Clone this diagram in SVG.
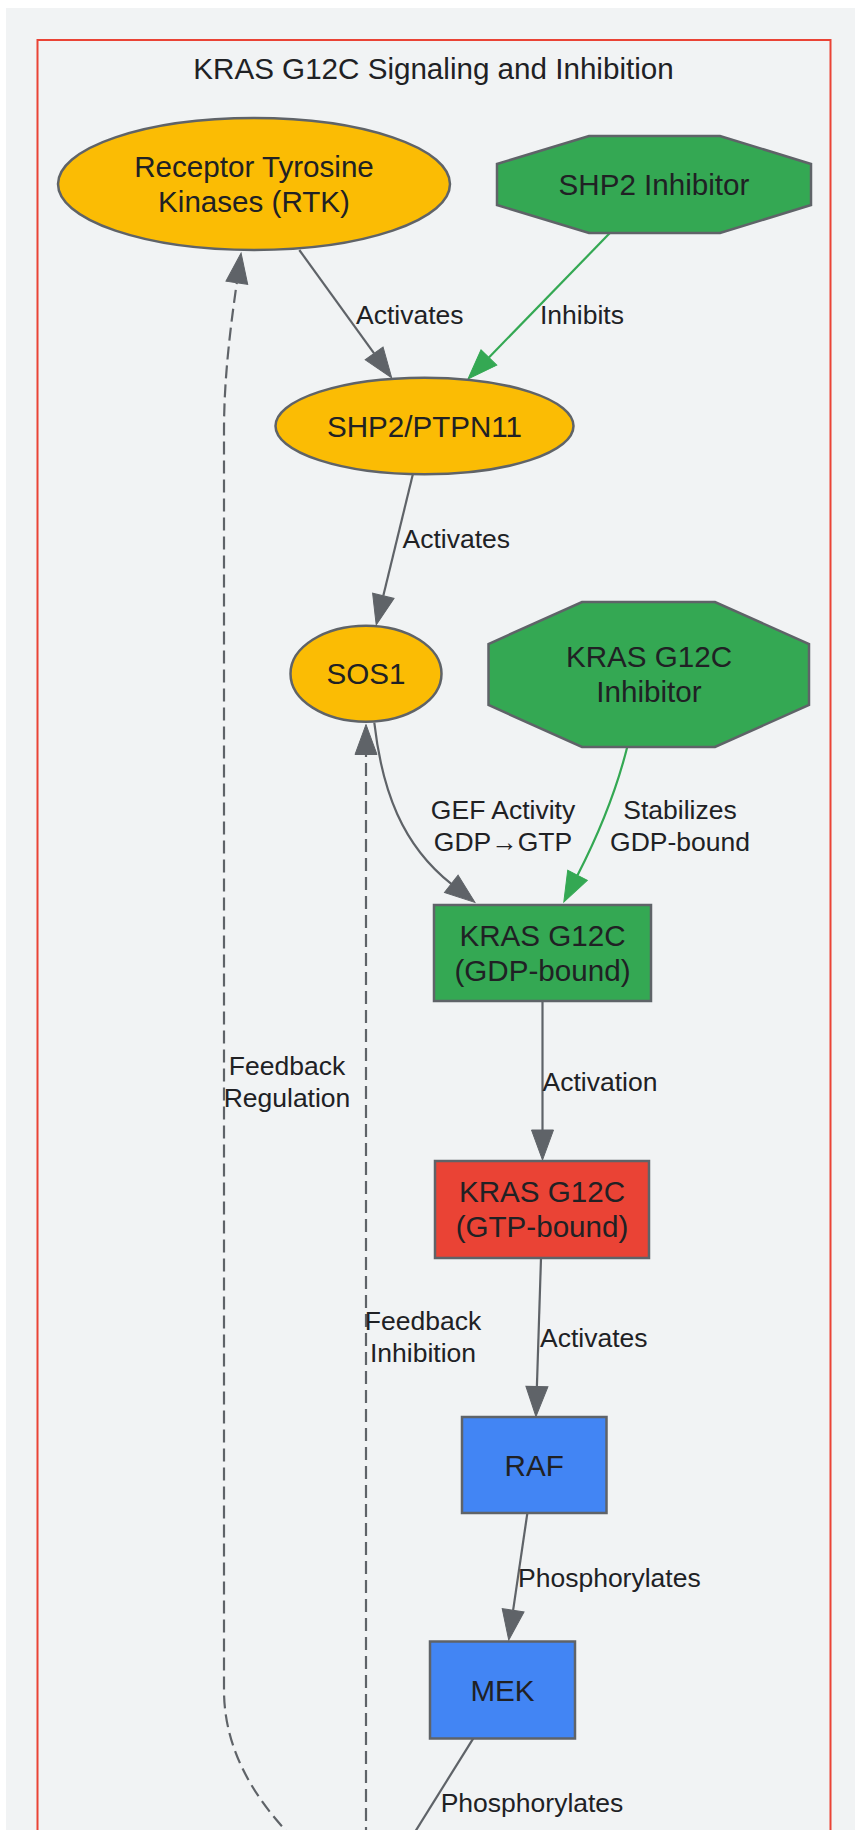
<svg xmlns="http://www.w3.org/2000/svg" width="855" height="1830" viewBox="0 0 855 1830">
<style>
  .node { stroke: #5f6368; stroke-width: 2.5; }
  .yellow { fill: #fbbc04; }
  .green { fill: #34a853; }
  .red { fill: #ea4335; }
  .blue { fill: #4285f4; }
  .ntext { font-family: "Liberation Sans", Arial, sans-serif; font-size: 29.6px; fill: #202124; text-anchor: middle; }
  .etext { font-family: "Liberation Sans", Arial, sans-serif; font-size: 26.5px; fill: #202124; }
  .mid { text-anchor: middle; }
  .edge { fill: none; stroke: #5f6368; stroke-width: 2.2; }
  .gedge { fill: none; stroke: #34a853; stroke-width: 2.2; }
  .dash { stroke-dasharray: 13,6; }
</style>
<defs>
  <marker id="arrow" markerUnits="userSpaceOnUse" markerWidth="32" markerHeight="24" refX="0" refY="11" orient="auto" overflow="visible">
    <path d="M0,0 L30,11 L0,22 z" fill="#5f6368" stroke="#5f6368" stroke-width="1"/>
  </marker>
  <marker id="garrow" markerUnits="userSpaceOnUse" markerWidth="32" markerHeight="24" refX="0" refY="11" orient="auto" overflow="visible">
    <path d="M0,0 L30,11 L0,22 z" fill="#34a853" stroke="#34a853" stroke-width="1"/>
  </marker>
</defs>
<rect x="0" y="0" width="855" height="1830" fill="#ffffff"/>
<rect x="6" y="8" width="849" height="1822" fill="#f1f3f4"/>
<g id="cluster">
  <rect x="37.5" y="40" width="793" height="1860" fill="none" stroke="#ea4335" stroke-width="2"/>
  <text x="433.5" y="79" class="ntext">KRAS G12C Signaling and Inhibition</text>
</g>
<g id="connectors">
  <path class="edge" d="M299.3,250 L374.1,353.4" marker-end="url(#arrow)"/>
  <text class="etext" x="356" y="324">Activates</text>

  <path class="gedge" d="M609.6,233.3 L488.9,357.5" marker-end="url(#garrow)"/>
  <text class="etext" x="540" y="324">Inhibits</text>

  <path class="edge" d="M412.8,474.5 L383.3,595.8" marker-end="url(#arrow)"/>
  <text class="etext" x="402.5" y="548">Activates</text>

  <path class="edge" d="M374.3,722.7 C382,790 402,845 451.3,883.8" marker-end="url(#arrow)"/>
  <text class="etext mid" x="503" y="819">GEF Activity</text>
  <text class="etext mid" x="503" y="851">GDP→GTP</text>

  <path class="gedge" d="M627.3,746.7 Q612,808 577.5,875.3" marker-end="url(#garrow)"/>
  <text class="etext mid" x="680" y="819">Stabilizes</text>
  <text class="etext mid" x="680" y="851">GDP-bound</text>

  <path class="edge" d="M542.5,1001 L542.5,1130" marker-end="url(#arrow)"/>
  <text class="etext" x="542.5" y="1091">Activation</text>

  <path class="edge" d="M541,1258.3 L536.9,1386.5" marker-end="url(#arrow)"/>
  <text class="etext" x="540" y="1347">Activates</text>

  <path class="edge" d="M527.3,1513.5 L513.1,1610.3" marker-end="url(#arrow)"/>
  <text class="etext" x="518" y="1587">Phosphorylates</text>

  <path class="edge" d="M473.3,1738.3 L400,1856"/>
  <text class="etext" x="440.7" y="1812">Phosphorylates</text>

  <path class="edge dash" d="M295,1840 C250,1795 224,1745 224,1690 L224,430 C224,380 230,330 236.8,282.8" marker-end="url(#arrow)"/>
  <text class="etext mid" x="287" y="1075">Feedback</text>
  <text class="etext mid" x="287" y="1107">Regulation</text>

  <path class="edge dash" d="M366,1840 L366,754.5" marker-end="url(#arrow)"/>
  <text class="etext mid" x="423" y="1330">Feedback</text>
  <text class="etext mid" x="423" y="1362">Inhibition</text>
</g>
<g id="rtk">
  <ellipse class="node yellow" cx="254" cy="184" rx="196" ry="66"/>
  <text class="ntext" x="254" y="177">Receptor Tyrosine</text>
  <text class="ntext" x="254" y="212">Kinases (RTK)</text>
</g>
<g id="shp2_inhibitor">
  <polygon class="node green" points="589,136 720,136 811,164 811,205 720,233 589,233 497,205 497,164"/>
  <text class="ntext" x="654" y="195">SHP2 Inhibitor</text>
</g>
<g id="shp2">
  <ellipse class="node yellow" cx="424.5" cy="426" rx="149" ry="48.3"/>
  <text class="ntext" x="424.5" y="436.5">SHP2/PTPN11</text>
</g>
<g id="sos1">
  <ellipse class="node yellow" cx="366" cy="673.7" rx="75.5" ry="48"/>
  <text class="ntext" x="366" y="684">SOS1</text>
</g>
<g id="kras_inhibitor">
  <polygon class="node green" points="582,602 715,602 809,644 809,705 715,747 582,747 488.5,705 488.5,644"/>
  <text class="ntext" x="649" y="667">KRAS G12C</text>
  <text class="ntext" x="649" y="702">Inhibitor</text>
</g>
<g id="kras_gdp">
  <rect class="node green" x="434" y="905" width="217" height="96"/>
  <text class="ntext" x="542.5" y="946">KRAS G12C</text>
  <text class="ntext" x="542.5" y="981">(GDP-bound)</text>
</g>
<g id="kras_gtp">
  <rect class="node red" x="435" y="1161" width="214" height="97"/>
  <text class="ntext" x="542" y="1202">KRAS G12C</text>
  <text class="ntext" x="542" y="1237">(GTP-bound)</text>
</g>
<g id="raf">
  <rect class="node blue" x="462" y="1417" width="144.5" height="96"/>
  <text class="ntext" x="534.2" y="1475.5">RAF</text>
</g>
<g id="mek">
  <rect class="node blue" x="430" y="1641.5" width="145" height="97"/>
  <text class="ntext" x="502.5" y="1700.5">MEK</text>
</g>
</svg>
